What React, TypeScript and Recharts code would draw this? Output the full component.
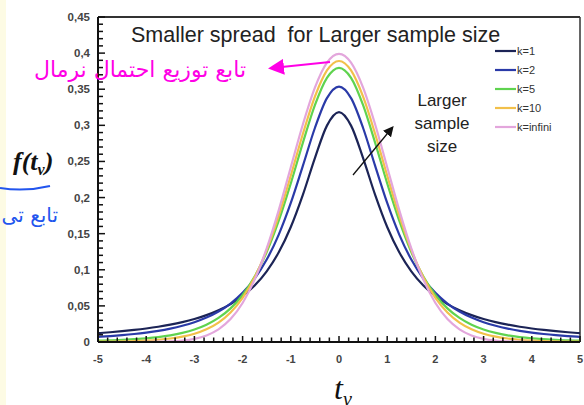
import React from "react";
import { LineChart, Line, XAxis, YAxis, ReferenceLine } from "recharts";

// t values along the x axis
const tValues = [
  -5, -4.75, -4.5, -4.25, -4, -3.75, -3.5, -3.25, -3, -2.75, -2.5, -2.25, -2, -1.75, -1.5, -1.25, -1, -0.75, -0.5, -0.25,
  0, 0.25, 0.5, 0.75, 1, 1.25, 1.5, 1.75, 2, 2.25, 2.5, 2.75, 3, 3.25, 3.5, 3.75, 4, 4.25, 4.5, 4.75, 5,
];

// density
const k1 = [
  0.0122, 0.0135, 0.015, 0.0167, 0.0187, 0.0211, 0.024, 0.0275, 0.0318, 0.0372, 0.0439, 0.0525, 0.0637, 0.0783, 0.0979, 0.1242, 0.1592, 0.2037, 0.2546, 0.2996,
  0.3183, 0.2996, 0.2546, 0.2037, 0.1592, 0.1242, 0.0979, 0.0783, 0.0637, 0.0525, 0.0439, 0.0372, 0.0318, 0.0275, 0.024, 0.0211, 0.0187, 0.0167, 0.015, 0.0135, 0.0122,
];
const k2 = [
  0.0071, 0.0082, 0.0095, 0.0111, 0.0131, 0.0155, 0.0186, 0.0225, 0.0274, 0.0338, 0.0422, 0.0533, 0.068, 0.0878, 0.1141, 0.1487, 0.1925, 0.2438, 0.2963, 0.3376,
  0.3536, 0.3376, 0.2963, 0.2438, 0.1925, 0.1487, 0.1141, 0.0878, 0.068, 0.0533, 0.0422, 0.0338, 0.0274, 0.0225, 0.0186, 0.0155, 0.0131, 0.0111, 0.0095, 0.0082, 0.0071,
];
const k5 = [
  0.0018, 0.0023, 0.0029, 0.0039, 0.0051, 0.0068, 0.0092, 0.0126, 0.0173, 0.0239, 0.0333, 0.0466, 0.0651, 0.0905, 0.1245, 0.1679, 0.2197, 0.2757, 0.3279, 0.3657,
  0.3796, 0.3657, 0.3279, 0.2757, 0.2197, 0.1679, 0.1245, 0.0905, 0.0651, 0.0466, 0.0333, 0.0239, 0.0173, 0.0126, 0.0092, 0.0068, 0.0051, 0.0039, 0.0029, 0.0023, 0.0018,
];
const k10 = [
  0.0004, 0.0006, 0.0009, 0.0013, 0.002, 0.0031, 0.0048, 0.0074, 0.0114, 0.0176, 0.0269, 0.0409, 0.0611, 0.0895, 0.1274, 0.1751, 0.2304, 0.288, 0.3397, 0.376,
  0.3891, 0.376, 0.3397, 0.288, 0.2304, 0.1751, 0.1274, 0.0895, 0.0611, 0.0409, 0.0269, 0.0176, 0.0114, 0.0074, 0.0048, 0.0031, 0.002, 0.0013, 0.0009, 0.0006, 0.0004,
];
const kInf = [
  0, 0, 0, 0, 0.0001, 0.0004, 0.0009, 0.002, 0.0044, 0.0091, 0.0175, 0.0317, 0.054, 0.0863, 0.1295, 0.1826, 0.242, 0.3011, 0.3521, 0.3867,
  0.3989, 0.3867, 0.3521, 0.3011, 0.242, 0.1826, 0.1295, 0.0863, 0.054, 0.0317, 0.0175, 0.0091, 0.0044, 0.002, 0.0009, 0.0004, 0.0001, 0, 0, 0, 0,
];

const xMajor = [-5, -4, -3, -2, -1, 0, 1, 2, 3, 4, 5];
const yMajor = [0, 0.05, 0.1, 0.15, 0.2, 0.25, 0.3, 0.35, 0.4, 0.45];

const series = [
  { key: "k1", name: "k=1", color: "#1c2456" },
  { key: "k2", name: "k=2", color: "#2a3aa8" },
  { key: "k5", name: "k=5", color: "#5fd34f" },
  { key: "k10", name: "k=10", color: "#f2c04a" },
  { key: "kInf", name: "k=infini", color: "#e3a6dc" },
];

const data = tValues.map((t, i) => ({ t, k1: k1[i], k2: k2[i], k5: k5[i], k10: k10[i], kInf: kInf[i] }));

// minor ticks: 0.2 on x, 0.01 on y
const xTicks: number[] = [];
for (let i = -25; i <= 25; i++) xTicks.push(i / 5);
const yTicks: number[] = [];
for (let i = 0; i <= 45; i++) yTicks.push(i / 100);

const isMajor = (v: number, majors: number[]) => majors.some(m => Math.abs(m - v) < 1e-6);

const XTick = (props: any) => {
  const { x, y, payload } = props;
  const major = isMajor(payload.value, xMajor);
  return (
    <g>
      <line x1={x} x2={x} y1={y} y2={y - (major ? 6 : 4.5)} stroke="#111" strokeWidth={1.5} />
      {major && (
        <text x={x} y={y + 21} textAnchor="middle" fontSize={11} fontWeight="bold" fill="#444"
          fontFamily="Liberation Sans, Arial, sans-serif">{payload.value}</text>
      )}
    </g>
  );
};

const YTick = (props: any) => {
  const { x, y, payload } = props;
  const major = isMajor(payload.value, yMajor);
  const label = String(Math.round(payload.value * 100) / 100).replace(".", ",");
  return (
    <g>
      <line x1={x} x2={x + (major ? 7 : 5)} y1={y} y2={y} stroke="#111" strokeWidth={1.5} />
      {major && (
        <text x={x - 8} y={y + 4} textAnchor="end" fontSize={11.5} fontWeight="bold" fill="#444"
          fontFamily="Liberation Sans, Arial, sans-serif">{label}</text>
      )}
    </g>
  );
};

export default function App() {
  return (
    <div style={{ position: "absolute", left: 0, top: 0, width: 584, height: 405, background: "#fff" }}>
      <LineChart width={584} height={405} data={data} margin={{ top: 17, right: 4, bottom: 33, left: 58 }}>
        <XAxis dataKey="t" type="number" domain={[-5, 5]} ticks={xTicks} interval={0}
          tick={XTick} tickLine={false} tickSize={0} tickMargin={0} height={30}
          axisLine={{ stroke: "#111", strokeWidth: 2 }} />
        <YAxis type="number" domain={[0, 0.45]} ticks={yTicks} interval={0}
          tick={YTick} tickLine={false} tickSize={0} tickMargin={0} width={40}
          axisLine={{ stroke: "#111", strokeWidth: 2 }} />
        <ReferenceLine y={0.45} stroke="#333" strokeWidth={2} />
        <ReferenceLine x={5} stroke="#333" strokeWidth={1.5} />
        {series.map(s => (
          <Line key={s.key} dataKey={s.key} name={s.name} type="monotone" stroke={s.color}
            strokeWidth={2.2} dot={false} isAnimationActive={false} />
        ))}
      </LineChart>

      <svg width={584} height={405} style={{ position: "absolute", left: 0, top: 0, pointerEvents: "none" }}>
        <defs>
          <marker id="ah" markerWidth="8" markerHeight="8" refX="6" refY="4" orient="auto">
            <path d="M0,0 L8,4 L0,8 Z" fill="#111" />
          </marker>
          <marker id="ph" markerWidth="8" markerHeight="8" refX="6" refY="4" orient="auto">
            <path d="M0,0 L8,4 L0,8 Z" fill="#ff00e6" />
          </marker>
        </defs>
        <rect x={0} y={0} width={6} height={405} fill="#fdfbe4" />

        <text x={131} y={42} fontSize={21.5} fill="#222" fontFamily="Liberation Sans, Arial, sans-serif"
          style={{ whiteSpace: "pre" }}>
          {"Smaller spread  for Larger sample size"}
        </text>

        {series.map((s, i) => (
          <g key={s.key}>
            <line x1={495} x2={516} y1={51 + i * 19} y2={51 + i * 19} stroke={s.color} strokeWidth={2.2} />
            <text x={517} y={55 + i * 19} fontSize={11} fill="#333" fontFamily="Liberation Sans, Arial, sans-serif">{s.name}</text>
          </g>
        ))}

        <g fontSize={17} fill="#222" fontFamily="Liberation Sans, Arial, sans-serif" textAnchor="middle">
          <text x={442} y={106}>Larger</text>
          <text x={442} y={129}>sample</text>
          <text x={442} y={152}>size</text>
        </g>
        <line x1={353} y1={175} x2={392} y2={128} stroke="#111" strokeWidth={1.3} markerEnd="url(#ah)" />

        <text x={13} y={170} fontSize={26} fontWeight="bold" fontStyle="italic" fill="#111"
          fontFamily="Liberation Serif, Times New Roman, serif">
          f(t<tspan fontSize={16} dy={5}>ν</tspan><tspan dy={-5}>)</tspan>
        </text>
        <text x={334} y={399} fontSize={32} fontStyle="italic" fill="#111" fontFamily="Liberation Serif, Times New Roman, serif">
          t<tspan fontSize={20} dy={7}>ν</tspan>
        </text>

        <text x={140} y={77} fontSize={22} fill="#ff00e6" textAnchor="middle" direction="rtl"
          fontFamily="DejaVu Sans, sans-serif">تابع توزیع احتمال نرمال</text>
        <line x1={330} y1={62} x2={272} y2={68} stroke="#ff00e6" strokeWidth={2} markerEnd="url(#ph)" />

        <path d="M0,188 Q25,192 50,186" stroke="#2255ee" strokeWidth={2} fill="none" />
        <text x={58} y={222} fontSize={20} fill="#2255ee" textAnchor="end"
          fontFamily="DejaVu Sans, sans-serif">تابع تی</text>
      </svg>
    </div>
  );
}
